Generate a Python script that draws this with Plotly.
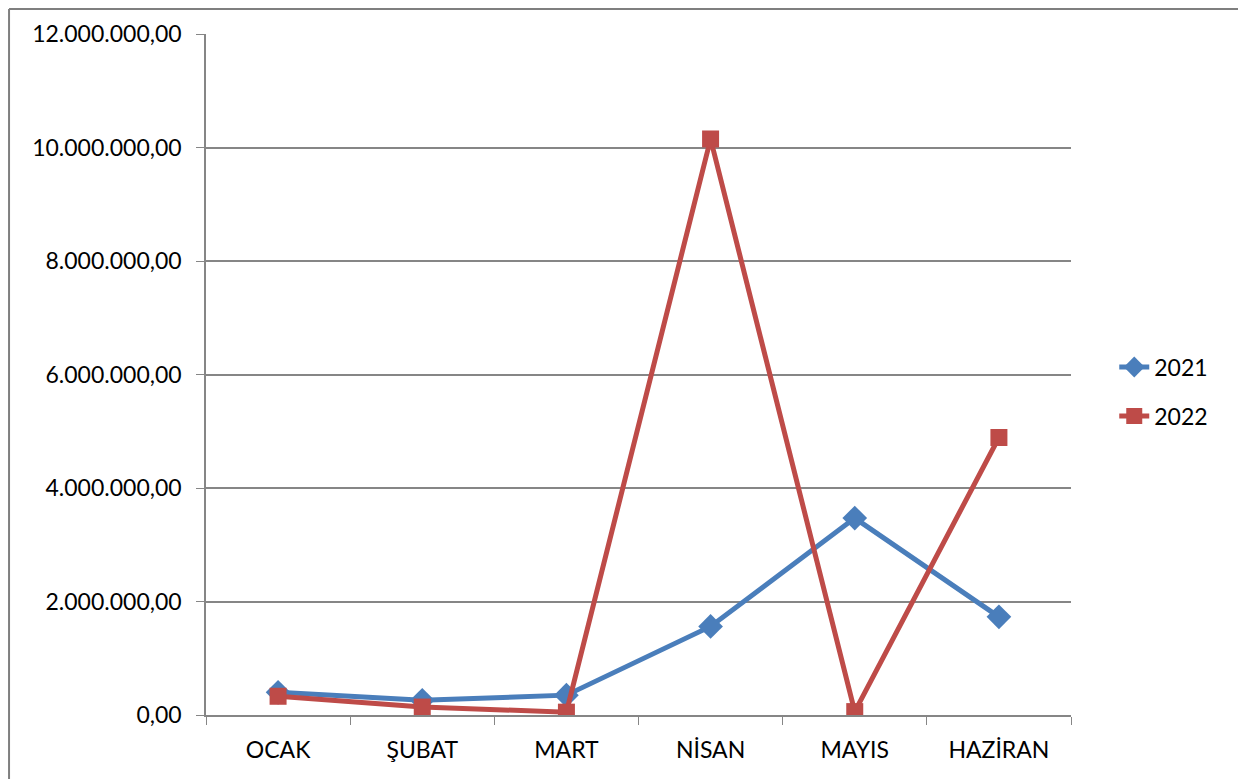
import plotly.graph_objects as go

months = ["OCAK", "ŞUBAT", "MART", "NİSAN", "MAYIS", "HAZİRAN"]
y2021 = [400000, 260000, 350000, 1560000, 3470000, 1730000]
y2022 = [330000, 140000, 50000, 10150000, 60000, 4890000]

fig = go.Figure()
fig.add_trace(go.Scatter(x=months, y=y2021, name="2021", mode="lines+markers", legendgroup="a",
                         line=dict(color="#4A7EBB", width=5),
                         marker=dict(symbol="diamond", size=19, color="#4A7EBB")))
fig.add_trace(go.Scatter(x=months, y=y2022, name="2022", mode="lines+markers", legendgroup="b",
                         line=dict(color="#BE4B48", width=5),
                         marker=dict(symbol="square", size=17, color="#BE4B48")))

fig.update_layout(
    width=1246, height=779,
    margin=dict(l=198, r=183, t=26, b=72),
    paper_bgcolor="white", plot_bgcolor="white",
    separators=",.",
    font=dict(family="Lato, Open Sans, sans-serif", size=23, color="black"),
    showlegend=True,
    legend=dict(x=1.05, y=0.475, xanchor="left", yanchor="middle",
                font=dict(size=23), tracegroupgap=16, traceorder="grouped"),
    xaxis=dict(type="category", showgrid=False, showline=True, linecolor="#868686", linewidth=1.5,
               ticks="outside", tickson="boundaries", ticklen=8, tickcolor="#868686",
               range=[-0.5, 5.5], tickfont=dict(size=23), ticklabelstandoff=14),
    yaxis=dict(range=[0, 12000000], dtick=2000000, tickformat=",.2f",
               showgrid=True, gridcolor="#868686", gridwidth=1.5,
               showline=True, linecolor="#868686", linewidth=1.5,
               ticks="outside", ticklen=8, tickcolor="#868686", zeroline=False,
               tickfont=dict(size=23), ticklabelstandoff=10),
)

frame = dict(color="#7F7F7F", width=2)
fig.add_shape(type="line", xref="paper", yref="paper",
              x0=-0.2277, x1=-0.2277, y0=-0.2, y1=1.0367, line=frame)
fig.add_shape(type="line", xref="paper", yref="paper",
              x0=-0.2277, x1=1.195, y0=1.0367, y1=1.0367, line=frame)

fig.write_html("out.html")
